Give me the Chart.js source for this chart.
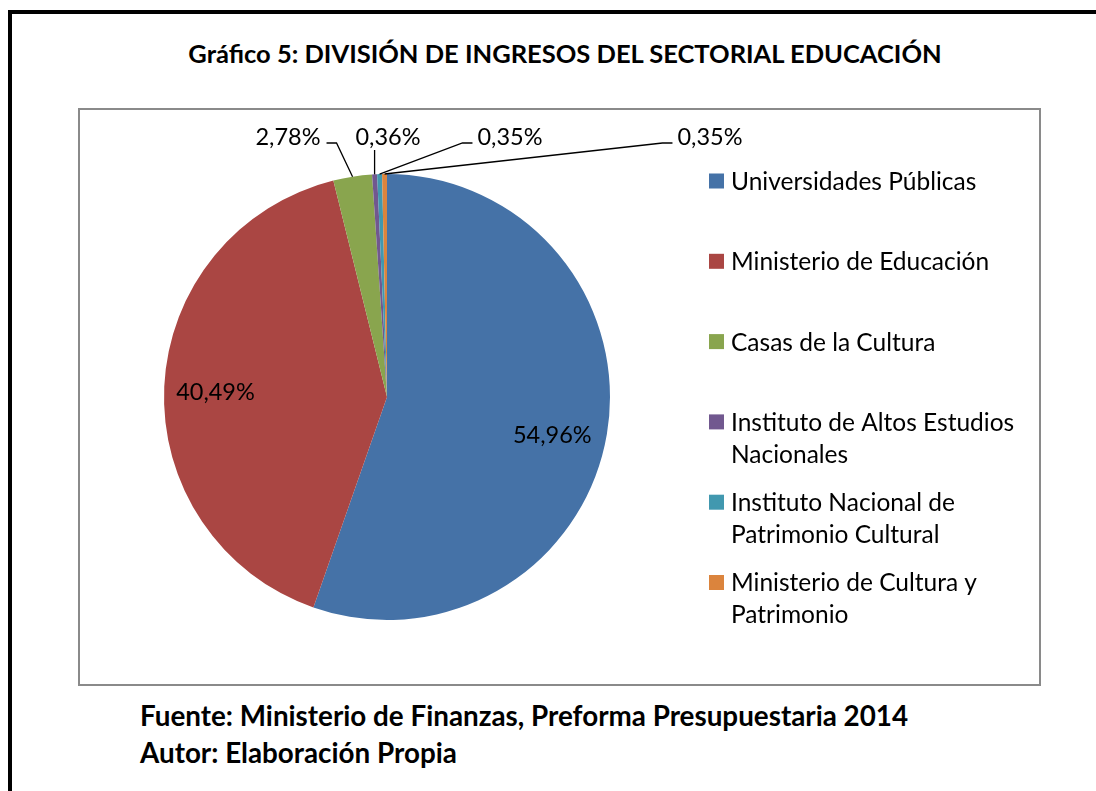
<!DOCTYPE html>
<html>
<head>
<meta charset="utf-8">
<script src="https://cdn.jsdelivr.net/npm/chart.js@4.4.1/dist/chart.umd.min.js"></script>
<style>
  body { margin: 0; background: #fff; width: 1096px; height: 791px; overflow: hidden; position: relative; font-family: "Lato", sans-serif; }
  #frame { position: absolute; left: 8px; top: 10px; right: -10px; bottom: -10px; border-left: 4px solid #000; border-top: 4px solid #000; }
  #title { position: absolute; left: 0; width: 1130px; top: 38px; text-align: center; font-weight: bold; font-size: 25.5px; line-height: 1.2; color: #000; }
  #plotBox { position: absolute; left: 78px; top: 108px; width: 963px; height: 578px; border: 2px solid #8a8a8a; box-sizing: border-box; }
  #footer { position: absolute; left: 140px; top: 697px; font-weight: bold; font-size: 27.8px; line-height: 37px; color: #000; }
</style>
</head>
<body>
<div id="frame"></div>
<div id="title">Gráfico 5: DIVISIÓN DE INGRESOS DEL SECTORIAL EDUCACIÓN</div>
<div id="plotBox"><canvas id="pie" width="959" height="574"></canvas></div>
<div id="footer">Fuente: Ministerio de Finanzas, Preforma Presupuestaria 2014<br>Autor: Elaboración Propia</div>
<script>
// categories (multi-line where the legend wraps)
const categories = [
  "Universidades Públicas",
  "Ministerio de Educación",
  "Casas de la Cultura",
  ["Instituto de Altos Estudios", "Nacionales"],
  ["Instituto Nacional de", "Patrimonio Cultural"],
  ["Ministerio de Cultura y", "Patrimonio"]
];
const shares = [54.96, 40.49, 2.78, 0.36, 0.35, 0.35];
const sliceColors = ["#4572A7", "#AA4643", "#89A54E", "#71588F", "#4198AF", "#DB843D"];

// where outside labels sit, relative to the pie centre (dx) and above the pie top (rise)
const outsideLabelDx = [null, null, -99, 1, 123, 323];
const outsideLabelRise = 37;
const insideLabelFactor = 0.77;
const insideLabelNudge = [[-4, 10], [0, 3]];

const labelFont = '23.5px "Lato", sans-serif';
const legendFont = '24.5px "Lato", sans-serif';

function fmtPct(v) {
  return v.toFixed(2).replace(".", ",") + "%";
}

// data labels with Excel-like leader lines
const pieLabels = {
  id: "pieLabels",
  afterDatasetsDraw(chart) {
    const ctx = chart.ctx;
    const arcs = chart.getDatasetMeta(0).data;
    ctx.save();
    ctx.font = labelFont;
    ctx.fillStyle = "#000";
    ctx.strokeStyle = "#000";
    ctx.lineWidth = 1.3;
    ctx.textBaseline = "middle";
    ctx.textAlign = "center";
    arcs.forEach((arc, i) => {
      const { x, y, startAngle, endAngle, outerRadius } = arc.getProps(["x", "y", "startAngle", "endAngle", "outerRadius"], true);
      const mid = (startAngle + endAngle) / 2;
      const text = fmtPct(shares[i]);
      if (outsideLabelDx[i] === null) {
        const r = outerRadius * insideLabelFactor;
        const [nx, ny] = insideLabelNudge[i];
        ctx.fillText(text, x + Math.cos(mid) * r + nx, y + Math.sin(mid) * r + ny);
        return;
      }
      const lx = x + outsideLabelDx[i];
      const ly = y - outerRadius - outsideLabelRise;
      ctx.fillText(text, lx, ly);
      const w = ctx.measureText(text).width;
      const px = x + Math.cos(mid) * outerRadius;
      const py = y + Math.sin(mid) * outerRadius;
      ctx.beginPath();
      if (lx + w / 2 < px) {
        ctx.moveTo(lx + w / 2 + 6, ly + 6);
        ctx.lineTo(lx + w / 2 + 16, ly + 6);
        ctx.lineTo(px, py);
      } else if (lx - w / 2 > px) {
        ctx.moveTo(lx - w / 2 - 5, ly + 6);
        ctx.lineTo(lx - w / 2 - 15, ly + 6);
        ctx.lineTo(px, py);
      } else {
        ctx.moveTo(px, ly + 13);
        ctx.lineTo(px, py);
      }
      ctx.stroke();
    });
    ctx.restore();
  }
};

// legend on the right, drawn by hand so long names wrap like the original
const sideLegend = {
  id: "sideLegend",
  afterDraw(chart) {
    const ctx = chart.ctx;
    const area = chart.chartArea;
    const boxX = area.right + 99;
    const textX = boxX + 22;
    const startY = area.top + 7;
    const step = 80.3;
    const lineH = 32;
    ctx.save();
    ctx.font = legendFont;
    ctx.textBaseline = "middle";
    ctx.textAlign = "left";
    categories.forEach((cat, i) => {
      const lines = Array.isArray(cat) ? cat : [cat];
      const cy = startY + i * step;
      ctx.fillStyle = sliceColors[i];
      ctx.fillRect(boxX, cy - 7.5, 15, 15);
      ctx.fillStyle = "#000";
      lines.forEach((ln, j) => ctx.fillText(ln, textX, cy + j * lineH + 1));
    });
    ctx.restore();
  }
};

new Chart(document.getElementById("pie"), {
  type: "pie",
  data: {
    labels: categories,
    datasets: [{
      data: shares,
      backgroundColor: sliceColors,
      borderWidth: 0
    }]
  },
  options: {
    responsive: false,
    animation: false,
    layout: { padding: { left: 84, top: 64, right: 429, bottom: 64 } },
    plugins: {
      legend: { display: false },
      tooltip: { enabled: false }
    }
  },
  plugins: [pieLabels, sideLegend]
});
</script>
</body>
</html>
